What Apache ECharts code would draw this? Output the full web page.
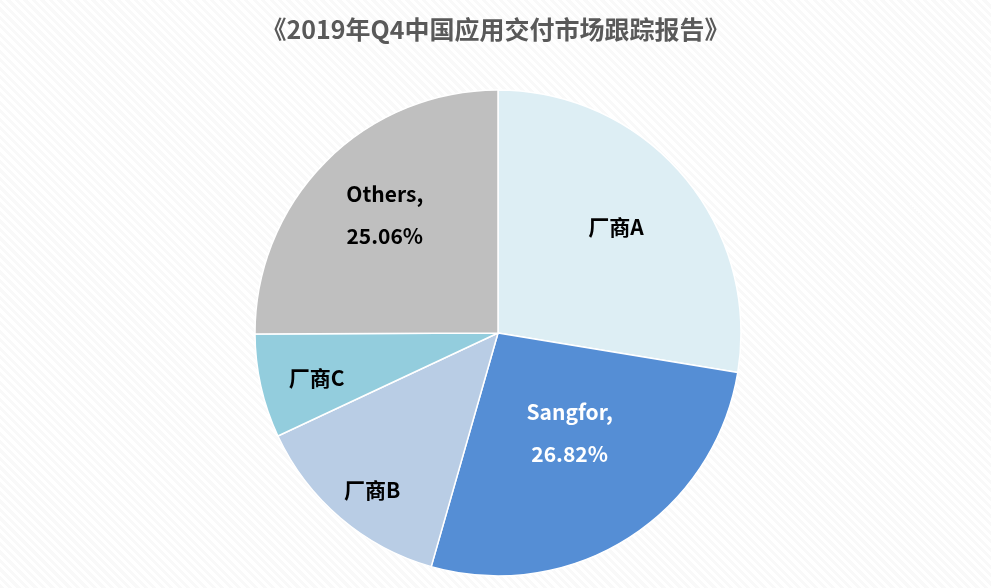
<!DOCTYPE html>
<html><head><meta charset="utf-8">
<script src="https://cdn.jsdelivr.net/npm/echarts@6/dist/echarts.min.js"></script>
<style>
html,body{margin:0;padding:0;width:991px;height:588px;overflow:hidden;
background:repeating-linear-gradient(45deg,#f9f9f9 0px,#f9f9f9 3px,#ffffff 3px,#ffffff 6px);}
#c{width:991px;height:588px;}
</style></head><body><div id="c"></div>
<script>
const title = '《2019年Q4中国应用交付市场跟踪报告》';
const categories = ['厂商A','Sangfor','厂商B','厂商C','Others'];
const values = [27.6,26.82,13.6,6.9,25.06];
const showPct = [false,true,false,false,true];
const colors = ['#DDEEF4','#558ED5','#B9CDE5','#93CDDD','#BFBFBF'];
const labelColors = ['#000','#fff','#000','#000','#000'];
const offsets = [[23,-25],[5,-5],[-45,62],[-60,18],[-25,-30]];
const chart = echarts.init(document.getElementById('c'));
chart.setOption({
  title:{text:title,left:'center',top:12,textStyle:{fontFamily:'Noto Sans CJK SC',fontSize:25,fontWeight:'bold',color:'#595959'}},
  series:[{type:'pie',center:[498,333],radius:243,startAngle:90,clockwise:true,
    itemStyle:{borderColor:'#fff',borderWidth:1.5},
    label:{position:'inside',fontFamily:'Noto Sans CJK SC',fontSize:21,fontWeight:'bold',lineHeight:42},
    emphasis:{disabled:true},
    data:categories.map((n,i)=>({name:n,value:values[i],
      itemStyle:{color:colors[i]},
      label:{color:labelColors[i],offset:offsets[i],
        formatter:showPct[i]?(n+',\n'+values[i].toFixed(2)+'%'):n}}))
  }]
});
</script></body></html>
